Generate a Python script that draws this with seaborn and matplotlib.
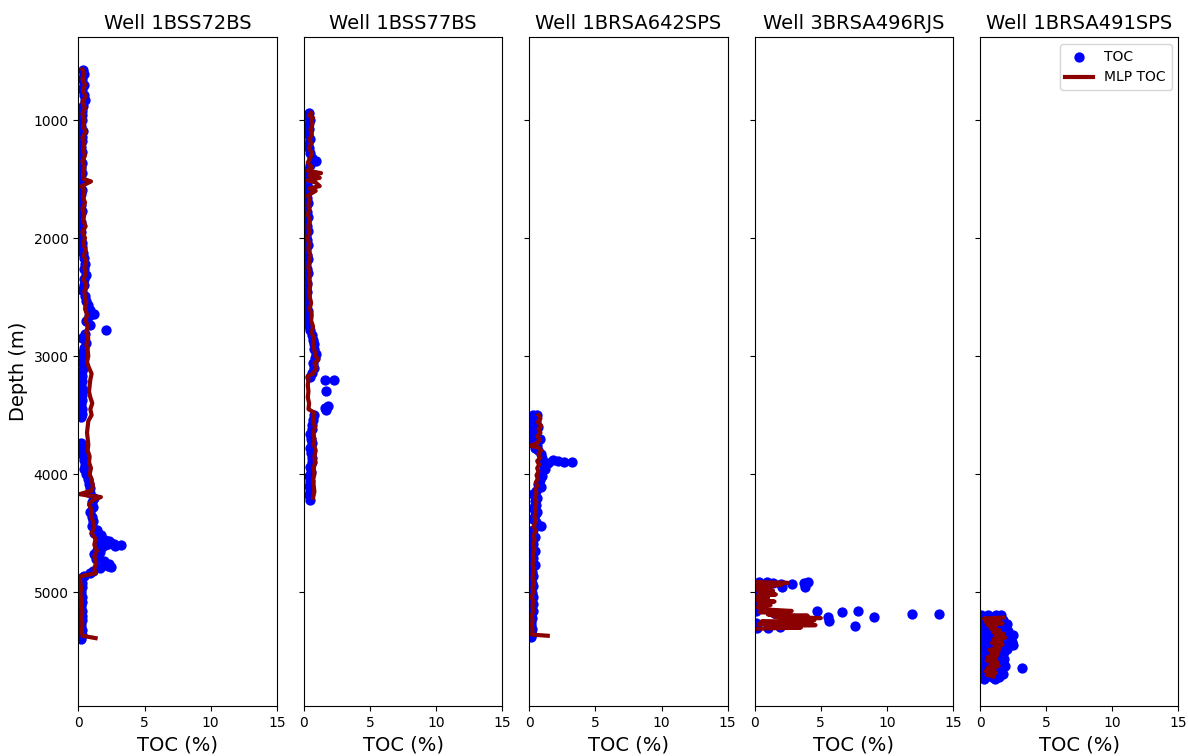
import matplotlib
matplotlib.use("Agg")
import matplotlib.pyplot as plt
import pandas as pd
import seaborn as sns

wells = ["1BSS72BS", "1BSS77BS", "1BRSA642SPS", "3BRSA496RJS", "1BRSA491SPS"]

# --- Well 1BSS72BS: core TOC samples ---
w1_depth = [575, 610, 650, 700, 740, 790, 830, 880, 920, 960, 1000, 1050, 1090, 1140, 1180,
            1230, 1270, 1320, 1360, 1410, 1450, 1500, 1540, 1590, 1630, 1680, 1720, 1770, 1810,
            1860, 1900, 1950, 1990, 2040, 2080, 2130, 2170, 2220, 2260, 2310, 2350, 2400, 2440,
            2490, 2530, 2570, 2610, 2640, 2660, 2700, 2740, 2780, 2810, 2850, 2890, 2930, 2970,
            3010, 3050, 3090, 3130, 3170, 3210, 3250, 3290, 3330, 3370, 3410, 3450, 3490, 3520,
            3740, 3770, 3800, 3840, 3880, 3920, 3960, 4000, 4040, 4080, 4120, 4160, 4200, 4240,
            4280, 4320, 4360, 4400, 4440, 4470, 4500, 4520, 4540, 4560, 4580, 4590, 4600, 4610,
            4620, 4640, 4660, 4680, 4700, 4720, 4740, 4760, 4780, 4800, 4820, 4840, 4860, 4880,
            4920, 4960, 5000, 5040, 5080, 5120, 5160, 5200, 5240, 5280, 5320, 5360, 5400,
            4595, 4605, 4590, 4570, 4790]
w1_toc = [0.35, 0.4, 0.3, 0.45, 0.3, 0.4, 0.5, 0.35, 0.3, 0.25, 0.3, 0.2, 0.35, 0.25, 0.3,
          0.2, 0.25, 0.15, 0.3, 0.2, 0.25, 0.2, 0.15, 0.25, 0.2, 0.15, 0.2, 0.25, 0.15,
          0.2, 0.1, 0.2, 0.15, 0.25, 0.3, 0.35, 0.45, 0.5, 0.4, 0.55, 0.45, 0.4, 0.3,
          0.5, 0.6, 0.75, 0.9, 1.2, 0.8, 0.6, 0.9, 2.1, 0.5, 0.3, 0.6, 0.4, 0.3,
          0.35, 0.2, 0.4, 0.3, 0.25, 0.3, 0.2, 0.35, 0.3, 0.25, 0.2, 0.3, 0.25, 0.2,
          0.2, 0.3, 0.25, 0.35, 0.4, 0.5, 0.45, 0.6, 0.7, 0.8, 0.9, 0.85, 1.2, 1.0,
          1.1, 0.9, 1.0, 1.1, 1.0, 1.4, 1.2, 1.7, 1.5, 2.0, 2.5, 2.2, 3.2, 2.8,
          1.8, 1.4, 1.6, 1.2, 1.5, 1.3, 1.9, 2.3, 2.2, 1.6, 1.1, 0.9, 0.4, 0.2,
          0.3, 0.25, 0.2, 0.3, 0.25, 0.2, 0.3, 0.25, 0.3, 0.2, 0.25, 0.3, 0.2,
          2.7, 2.0, 1.6, 2.3, 2.5]

# --- Well 1BSS72BS: MLP prediction ---
w1_mlp_depth = [570, 610, 650, 700, 750, 800, 850, 900, 950, 1000, 1050, 1100, 1150, 1200,
                1250, 1300, 1350, 1400, 1450, 1500, 1520, 1540, 1560, 1600, 1650, 1700, 1750,
                1800, 1850, 1900, 1950, 2000, 2050, 2100, 2150, 2200, 2250, 2300, 2350, 2400,
                2450, 2500, 2550, 2600, 2650, 2700, 2750, 2800, 2850, 2900, 2950, 3000, 3050,
                3100, 3150, 3200, 3250, 3300, 3350, 3400, 3450, 3500, 3550, 3600, 3650, 3700,
                3750, 3800, 3850, 3900, 3950, 4000, 4050, 4100, 4140, 4170, 4180, 4195, 4210,
                4230, 4260, 4300, 4350, 4400, 4450, 4500, 4550, 4600, 4650, 4700, 4750, 4800,
                4840, 4855, 4870, 4920, 4970, 5020, 5070, 5120, 5170, 5220, 5270, 5320, 5370,
                5390]
w1_mlp = [0.3, 0.45, 0.3, 0.5, 0.35, 0.55, 0.3, 0.5, 0.3, 0.45, 0.35, 0.55, 0.3, 0.45,
          0.35, 0.5, 0.3, 0.45, 0.35, 0.4, 0.95, 0.6, 0.25, 0.45, 0.35, 0.5, 0.3,
          0.45, 0.35, 0.55, 0.3, 0.5, 0.35, 0.55, 0.4, 0.6, 0.45, 0.55, 0.4, 0.6,
          0.45, 0.5, 0.6, 0.5, 0.65, 0.55, 0.7, 0.6, 0.75, 0.6, 0.7, 0.75, 0.65,
          0.8, 1.0, 0.9, 0.85, 0.8, 0.9, 1.05, 0.9, 1.0, 0.75, 0.7, 0.65, 0.7,
          0.75, 0.7, 0.85, 0.8, 0.95, 0.85, 1.0, 1.1, 1.0, 0.1, 0.6, 1.7, 1.3,
          1.0, 0.8, 1.0, 0.95, 1.1, 1.2, 1.0, 1.3, 1.2, 1.4, 1.2, 1.35, 1.2,
          1.3, 0.6, 0.1, 0.15, 0.2, 0.15, 0.25, 0.2, 0.3, 0.25, 0.3, 0.25, 0.3,
          1.3]

# --- Well 1BSS77BS ---
w2_depth = [940, 970, 1000, 1040, 1080, 1120, 1160, 1200, 1240, 1280, 1320, 1350, 1380, 1420,
            1460, 1500, 1540, 1580, 1620, 1660, 1700, 1740, 1780, 1820, 1860, 1900, 1940, 1980,
            2020, 2060, 2100, 2140, 2180, 2220, 2260, 2300, 2340, 2380, 2420, 2460, 2500, 2540,
            2580, 2620, 2660, 2700, 2740, 2780, 2820, 2860, 2900, 2940, 2980, 3020, 3060, 3100,
            3140, 3180, 3200, 3200, 3300, 3420, 3440, 3460, 3500, 3540, 3580, 3620, 3660, 3700,
            3740, 3780, 3820, 3860, 3900, 3940, 3980, 4020, 4060, 4100, 4140, 4180, 4220]
w2_toc = [0.4, 0.3, 0.45, 0.3, 0.4, 0.35, 0.45, 0.3, 0.4, 0.5, 0.6, 0.9, 0.5, 0.3,
          0.2, 0.3, 0.25, 0.3, 0.2, 0.25, 0.3, 0.2, 0.25, 0.3, 0.2, 0.25, 0.3, 0.2,
          0.25, 0.3, 0.2, 0.25, 0.3, 0.2, 0.25, 0.3, 0.2, 0.25, 0.2, 0.25, 0.2, 0.25,
          0.2, 0.3, 0.25, 0.2, 0.35, 0.5, 0.6, 0.7, 0.75, 0.8, 0.9, 0.85, 0.7, 0.75,
          0.6, 0.5, 1.6, 2.3, 1.7, 1.8, 1.6, 1.7, 0.8, 0.7, 0.6, 0.65, 0.5, 0.55,
          0.6, 0.5, 0.55, 0.6, 0.65, 0.5, 0.55, 0.4, 0.5, 0.4, 0.45, 0.4, 0.45]

w2_mlp_depth = [940, 960, 980, 1000, 1040, 1080, 1120, 1160, 1200, 1240, 1280, 1320, 1360,
                1400, 1430, 1450, 1470, 1490, 1510, 1530, 1560, 1580, 1600, 1640, 1680, 1720,
                1760, 1800, 1850, 1900, 1950, 2000, 2050, 2100, 2150, 2200, 2250, 2300, 2350,
                2400, 2450, 2500, 2550, 2600, 2650, 2700, 2750, 2800, 2850, 2900, 2950, 3000,
                3030, 3060, 3100, 3150, 3170, 3200, 3250, 3300, 3350, 3400, 3450, 3480, 3520,
                3560, 3600, 3650, 3700, 3750, 3800, 3850, 3900, 3950, 4000, 4050, 4100, 4150,
                4200]
w2_mlp = [0.55, 0.4, 0.7, 0.6, 0.65, 0.5, 0.6, 0.45, 0.55, 0.4, 0.6, 0.5, 0.3,
          0.6, 0.3, 1.3, 0.4, 1.2, 0.3, 0.9, 1.2, 0.4, 0.9, 0.3, 0.45, 0.35,
          0.4, 0.3, 0.45, 0.35, 0.4, 0.3, 0.4, 0.35, 0.5, 0.4, 0.35, 0.45, 0.4,
          0.5, 0.4, 0.45, 0.55, 0.45, 0.6, 0.55, 0.7, 0.6, 0.75, 0.7, 0.8, 0.9,
          1.1, 0.8, 0.95, 0.7, 0.3, 0.35, 0.3, 0.35, 0.3, 0.4, 0.35, 0.8, 0.75,
          0.7, 0.85, 0.7, 0.8, 0.75, 0.9, 0.8, 0.85, 0.75, 0.8, 0.7, 0.75, 0.8,
          0.7]

# --- Well 1BRSA642SPS ---
w3_depth = [3500, 3500, 3530, 3550, 3580, 3600, 3620, 3650, 3680, 3700, 3720, 3750, 3780, 3800,
            3830, 3860, 3880, 3890, 3900, 3895, 3910, 3930, 3960, 3990, 4020, 4050, 4080, 4110,
            4140, 4170, 4200, 4230, 4260, 4290, 4320, 4350, 4380, 4410, 4440, 4470, 4500, 4530,
            4560, 4590, 4620, 4650, 4680, 4710, 4740, 4770, 4800, 4830, 4860, 4890, 4920, 4950,
            4980, 5010, 5040, 5070, 5100, 5130, 5160, 5190, 5220, 5250, 5280, 5310, 5340, 5370,
            5380]
w3_toc = [0.3, 0.6, 0.2, 0.5, 0.3, 0.7, 0.4, 0.2, 0.5, 0.8, 0.3, 0.6, 0.4, 0.7,
          0.9, 1.0, 1.8, 2.2, 2.6, 3.2, 1.4, 1.1, 1.2, 0.9, 1.0, 0.8, 0.7, 0.9,
          0.5, 0.3, 0.6, 0.4, 0.5, 0.3, 0.6, 0.4, 0.3, 0.5, 0.9, 0.3, 0.2, 0.4,
          0.1, 0.3, 0.2, 0.4, 0.1, 0.3, 0.2, 0.4, 0.1, 0.2, 0.3, 0.15, 0.2, 0.3,
          0.1, 0.2, 0.3, 0.1, 0.25, 0.15, 0.3, 0.1, 0.2, 0.15, 0.1, 0.2, 0.1, 0.15,
          0.1]

w3_mlp_depth = [3500, 3530, 3560, 3590, 3620, 3650, 3680, 3710, 3740, 3760, 3775, 3800, 3830,
                3860, 3890, 3920, 3950, 3980, 4010, 4040, 4070, 4100, 4130, 4160, 4200, 4240,
                4280, 4320, 4360, 4400, 4440, 4480, 4520, 4560, 4600, 4640, 4680, 4720, 4760,
                4800, 4840, 4880, 4920, 4960, 5000, 5040, 5080, 5120, 5160, 5200, 5240, 5280,
                5320, 5360, 5370]
w3_mlp = [0.7, 0.85, 0.65, 0.9, 0.7, 0.85, 0.6, 0.8, 0.55, 0.05, 0.7, 0.9, 0.7,
          0.85, 0.6, 0.75, 0.6, 0.7, 0.55, 0.65, 0.5, 0.6, 0.5, 0.55, 0.45, 0.55,
          0.45, 0.5, 0.4, 0.5, 0.35, 0.45, 0.35, 0.4, 0.3, 0.4, 0.3, 0.35, 0.25,
          0.35, 0.3, 0.25, 0.35, 0.25, 0.3, 0.2, 0.3, 0.25, 0.3, 0.2, 0.25, 0.2,
          0.25, 0.2, 1.4]

# --- Well 3BRSA496RJS ---
w4_depth = [4913, 4915, 4920, 4930, 4921, 4913, 4932, 4955, 4955, 4955, 5010, 5060, 5120,
            5158, 5181, 5158, 5209, 5243, 5172, 5158, 5209, 5186, 5186, 5260, 5251, 5285,
            5294, 5305, 5305]
w4_toc = [0.3, 0.9, 1.4, 2.0, 3.7, 4.0, 2.85, 3.8, 2.1, 0.2, 0.1, 0.1, 0.1,
          0.1, 1.5, 4.75, 5.55, 5.6, 6.6, 7.8, 9.0, 11.9, 13.9, 0.1, 2.1, 7.55,
          1.9, 0.2, 1.0]

w4_mlp_depth = [4915, 4922, 4930, 4940, 4950, 4965, 4975, 4990, 5005, 5020, 5035, 5050, 5065,
                5080, 5095, 5110, 5125, 5145, 5160, 5170, 5180, 5190, 5200, 5210, 5220, 5230,
                5240, 5250, 5260, 5270, 5280, 5290, 5300, 5310]
w4_mlp = [0.1, 2.5, 0.3, 2.0, 0.2, 1.2, 0.1, 1.4, 0.3, 1.6, 0.2, 1.0, 0.1,
          1.5, 0.3, 1.2, 0.2, 0.5, 2.8, 0.4, 2.5, 1.0, 4.0, 1.5, 5.0, 2.0,
          4.5, 0.5, 3.0, 0.3, 4.6, 1.0, 3.5, 0.2]

# --- Well 1BRSA491SPS ---
w5_depth = [5190, 5190, 5190, 5190, 5215, 5215, 5240, 5240, 5240, 5270, 5270, 5270,
            5300, 5300, 5300, 5330, 5330, 5330, 5360, 5360, 5360, 5360, 5390, 5390, 5390,
            5420, 5420, 5420, 5450, 5450, 5450, 5480, 5480, 5480, 5510, 5510, 5510,
            5540, 5540, 5540, 5570, 5570, 5570, 5600, 5600, 5600, 5630, 5630, 5630, 5644,
            5660, 5660, 5660, 5690, 5690, 5690, 5720, 5720, 5720, 5740, 5740]
w5_toc = [0.1, 0.6, 1.2, 1.6, 0.3, 1.0, 0.1, 0.8, 1.7, 0.4, 1.3, 2.0,
          0.1, 0.9, 1.8, 0.5, 1.5, 2.1, 0.1, 1.1, 1.9, 2.5, 0.6, 1.4, 2.2,
          0.2, 1.0, 2.4, 0.5, 1.7, 2.5, 0.1, 1.2, 2.0, 0.4, 1.5, 1.8,
          0.1, 0.9, 1.6, 0.5, 1.3, 1.8, 0.1, 1.0, 1.7, 0.4, 1.4, 1.9, 3.2,
          0.1, 0.8, 1.5, 0.4, 1.2, 1.7, 0.2, 0.9, 1.4, 0.3, 1.1]

w5_mlp_depth = [5215, 5225, 5235, 5250, 5265, 5280, 5295, 5310, 5325, 5340, 5355, 5370, 5385,
                5400, 5415, 5430, 5445, 5460, 5475, 5490, 5505, 5520, 5535, 5550, 5565, 5580,
                5595, 5610, 5625, 5640, 5655, 5670, 5685, 5700, 5715]
w5_mlp = [1.8, 0.3, 1.5, 0.4, 1.7, 0.6, 1.2, 0.8, 1.5, 1.0, 1.8, 1.2, 1.9,
          1.0, 1.6, 0.9, 1.7, 1.1, 1.5, 0.7, 1.4, 0.9, 1.3, 0.6, 1.2, 0.5,
          1.3, 0.8, 1.4, 0.6, 1.1, 0.4, 1.2, 0.5, 1.0]

core = [(w1_depth, w1_toc), (w2_depth, w2_toc), (w3_depth, w3_toc),
        (w4_depth, w4_toc), (w5_depth, w5_toc)]
pred = [(w1_mlp_depth, w1_mlp), (w2_mlp_depth, w2_mlp), (w3_mlp_depth, w3_mlp),
        (w4_mlp_depth, w4_mlp), (w5_mlp_depth, w5_mlp)]

fig, axes = plt.subplots(1, 5, sharey=True, figsize=(11.88, 7.56), dpi=100)
fig.subplots_adjust(left=0.066, right=0.992, top=0.951, bottom=0.066, wspace=0.136)

for i, ax in enumerate(axes):
    last = i == len(axes) - 1
    df_core = pd.DataFrame({"depth": core[i][0], "toc": core[i][1]})
    df_pred = pd.DataFrame({"depth": pred[i][0], "mlp": pred[i][1]})

    sns.scatterplot(data=df_core, x="toc", y="depth", ax=ax, color="blue",
                    edgecolor="blue", linewidth=0, s=55,
                    label="TOC" if last else None)
    sns.lineplot(data=df_pred, x="mlp", y="depth", ax=ax, orient="y",
                 estimator=None, sort=False, color="darkred", linewidth=3,
                 label="MLP TOC" if last else None)

    ax.set_title(f"Well {wells[i]}", fontsize=14)
    ax.set_xlim(0, 15)
    ax.set_xticks([0, 5, 10, 15])
    ax.set_xlabel("TOC (%)", fontsize=14)
    ax.set_ylabel("Depth (m)" if i == 0 else "", fontsize=14)

axes[0].set_ylim(5966, 297)
axes[-1].legend(loc="upper right", fontsize=10)

fig.savefig("out.png", dpi=100)
